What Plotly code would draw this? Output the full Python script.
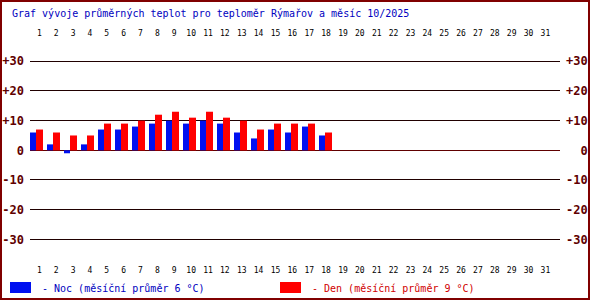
import plotly.graph_objects as go

# ---- data ----
days = list(range(1, 19))
all_days = list(range(1, 32))
noc = [6, 2, -1, 2, 7, 7, 8, 9, 10, 9, 10, 9, 6, 4, 7, 6, 8, 5]
den = [7, 6, 5, 5, 9, 9, 10, 12, 13, 11, 13, 11, 10, 7, 9, 9, 9, 6]
y_ticks = [30, 20, 10, 0, -10, -20, -30]
y_labels = ["+30", "+20", "+10", "0", "-10", "-20", "-30"]
day_labels = [str(d) for d in all_days]
title = "Graf vývoje průměrných teplot pro teploměr Rýmařov a měsíc 10/2025"

noc_avg = round(sum(noc) / len(noc))
den_avg = round(sum(den) / len(den))

# ---- layout geometry ----
W, H = 590, 300
L, R, T, B = 30, 30, 45, 44
PW, PH = W - L - R, H - T - B

def px(x):
    return (x - L) / PW

def py(y):
    return (H - B - y) / PH

MONO = "DejaVu Sans Mono"
BLUE_TXT = "#0000c0"
RED_TXT = "#d00000"
AX_COL = "#600000"

fig = go.Figure()

# bars (on x3, pitch 17 px)
fig.add_trace(go.Bar(x=days, y=noc, xaxis="x3", yaxis="y",
                     marker=dict(color="#0010f0", line=dict(width=0)),
                     width=6 / 17, offset=-6 / 17, hoverinfo="skip"))
fig.add_trace(go.Bar(x=days, y=den, xaxis="x3", yaxis="y",
                     marker=dict(color="#ff0000", line=dict(width=0)),
                     width=7 / 17, offset=0, hoverinfo="skip"))
# invisible carriers for label axes
fig.add_trace(go.Scatter(x=all_days, y=[None] * 31, xaxis="x", yaxis="y",
                         mode="markers", marker=dict(opacity=0), hoverinfo="skip"))
fig.add_trace(go.Scatter(x=all_days, y=[None] * 31, xaxis="x2", yaxis="y2",
                         mode="markers", marker=dict(opacity=0), hoverinfo="skip"))

lab_range = [1 + (L - 39.3) / 16.87, 1 + (W - R - 39.3) / 16.87]
bar_range = [1 + (L - 36) / 17, 1 + (W - R - 36) / 17]
y_range = [-(H - B - 150.3) / 2.967, (150.3 - T) / 2.967]

tickfont_x = dict(family=MONO, size=8, color="#000000")
tickfont_y = dict(family=MONO, size=12, color=AX_COL, weight=700)

fig.update_layout(
    width=W, height=H,
    margin=dict(l=L, r=R, t=T, b=B, pad=0, autoexpand=False),
    paper_bgcolor="white", plot_bgcolor="white",
    showlegend=False, barmode="overlay",
    xaxis=dict(range=lab_range, tickvals=all_days, ticktext=day_labels,
               side="bottom", showgrid=False, zeroline=False, showline=False,
               ticks="", tickfont=tickfont_x, ticklabelstandoff=8,
               automargin=False, fixedrange=True),
    xaxis2=dict(range=lab_range, tickvals=all_days, ticktext=day_labels,
                overlaying="x", side="top", showgrid=False, zeroline=False,
                showline=False, ticks="", tickfont=tickfont_x,
                ticklabelstandoff=6, automargin=False, fixedrange=True),
    xaxis3=dict(range=bar_range, overlaying="x", showgrid=False, zeroline=False,
                showline=False, showticklabels=False, ticks="",
                automargin=False, fixedrange=True),
    yaxis=dict(range=y_range, tickvals=y_ticks, ticktext=y_labels,
               showgrid=True, gridcolor="#200000", gridwidth=1,
               zeroline=True, zerolinecolor=AX_COL, zerolinewidth=1,
               showline=False, ticks="", tickfont=tickfont_y,
               ticklabelstandoff=5, automargin=False, fixedrange=True),
    yaxis2=dict(range=y_range, tickvals=y_ticks,
                ticktext=[s.rjust(3, "\u00a0") for s in y_labels],
                overlaying="y", side="right", showgrid=False, zeroline=False,
                showline=False, ticks="", tickfont=tickfont_y,
                ticklabelstandoff=5, automargin=False, fixedrange=True),
)

shapes = [
    dict(type="rect", xref="paper", yref="paper",
         x0=px(1), x1=px(589), y0=py(1), y1=py(299),
         line=dict(color="#800000", width=2), fillcolor="rgba(0,0,0,0)", layer="above"),
    dict(type="rect", xref="paper", yref="paper",
         x0=px(10), x1=px(31), y0=py(282), y1=py(293),
         line=dict(width=0), fillcolor="#0010f0"),
    dict(type="rect", xref="paper", yref="paper",
         x0=px(280), x1=px(301), y0=py(282), y1=py(293),
         line=dict(width=0), fillcolor="#ff0000"),
]
fig.update_layout(shapes=shapes)

annotations = [
    dict(text=title, xref="paper", yref="paper", x=px(10), y=py(14),
         xanchor="left", yanchor="middle", showarrow=False,
         font=dict(family=MONO, size=10, color=BLUE_TXT)),
    dict(text=f"- Noc (měsíční průměr {noc_avg} °C)", xref="paper", yref="paper",
         x=px(40), y=py(288), xanchor="left", yanchor="middle", showarrow=False,
         font=dict(family=MONO, size=10, color=BLUE_TXT)),
    dict(text=f"- Den (měsíční průměr {den_avg} °C)", xref="paper", yref="paper",
         x=px(310), y=py(288), xanchor="left", yanchor="middle", showarrow=False,
         font=dict(family=MONO, size=10, color=RED_TXT)),
]
fig.update_layout(annotations=annotations)

fig.write_html("out.html", config={"displayModeBar": False})
